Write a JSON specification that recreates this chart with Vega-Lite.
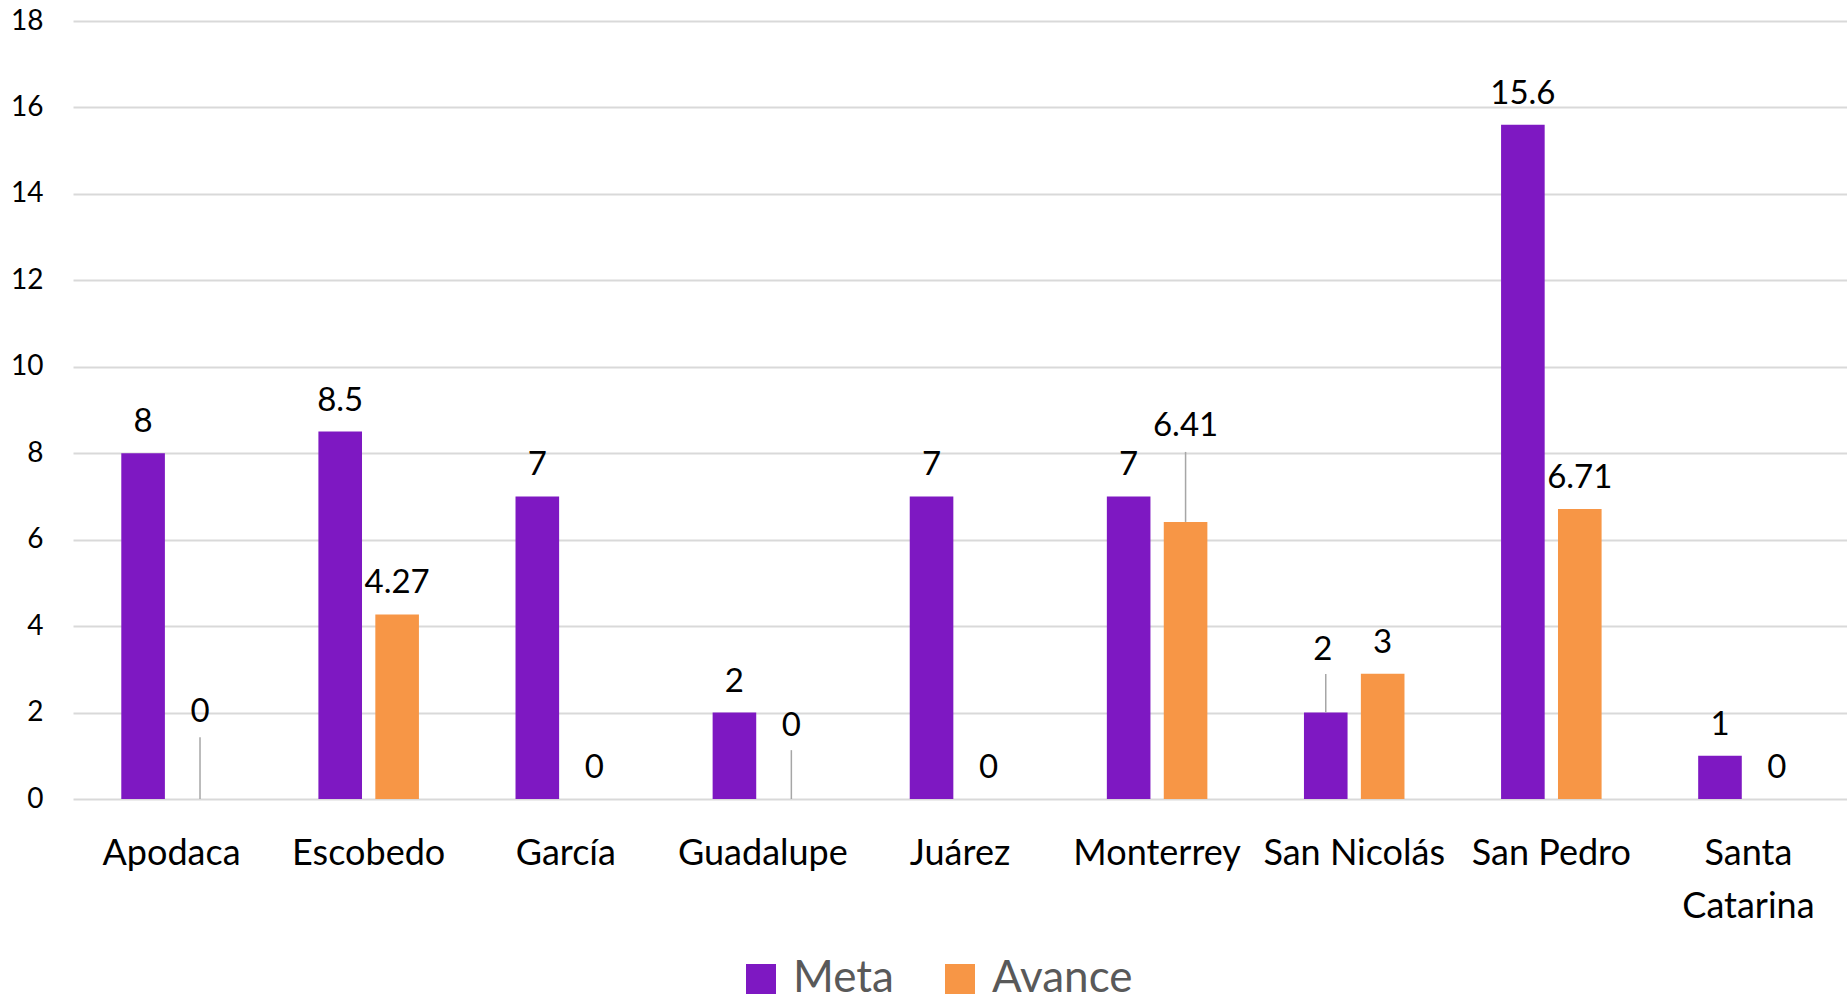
{
  "$schema": "https://vega.github.io/schema/vega-lite/v6.json",
  "width": 1774,
  "height": 778,
  "autosize": {"type": "none"},
  "padding": {"left": 73, "top": 21, "right": 0, "bottom": 208},
  "background": "white",
  "config": {"view": {"stroke": null}, "font": "Lato"},
  "data": {
    "values": [
      {"municipio": "Apodaca", "serie": "Meta", "valor": 8, "etiqueta": "8"},
      {"municipio": "Apodaca", "serie": "Avance", "valor": 0, "etiqueta": "0"},
      {"municipio": "Escobedo", "serie": "Meta", "valor": 8.5, "etiqueta": "8.5"},
      {"municipio": "Escobedo", "serie": "Avance", "valor": 4.27, "etiqueta": "4.27"},
      {"municipio": "García", "serie": "Meta", "valor": 7, "etiqueta": "7"},
      {"municipio": "García", "serie": "Avance", "valor": 0, "etiqueta": "0"},
      {"municipio": "Guadalupe", "serie": "Meta", "valor": 2, "etiqueta": "2"},
      {"municipio": "Guadalupe", "serie": "Avance", "valor": 0, "etiqueta": "0"},
      {"municipio": "Juárez", "serie": "Meta", "valor": 7, "etiqueta": "7"},
      {"municipio": "Juárez", "serie": "Avance", "valor": 0, "etiqueta": "0"},
      {"municipio": "Monterrey", "serie": "Meta", "valor": 7, "etiqueta": "7"},
      {"municipio": "Monterrey", "serie": "Avance", "valor": 6.41, "etiqueta": "6.41"},
      {"municipio": "San Nicolás", "serie": "Meta", "valor": 2, "etiqueta": "2"},
      {"municipio": "San Nicolás", "serie": "Avance", "valor": 2.9, "etiqueta": "3"},
      {"municipio": "San Pedro", "serie": "Meta", "valor": 15.6, "etiqueta": "15.6"},
      {"municipio": "San Pedro", "serie": "Avance", "valor": 6.71, "etiqueta": "6.71"},
      {"municipio": "Santa Catarina", "serie": "Meta", "valor": 1, "etiqueta": "1"},
      {"municipio": "Santa Catarina", "serie": "Avance", "valor": 0, "etiqueta": "0"}
    ]
  },
  "encoding": {
    "x": {
      "field": "municipio",
      "type": "nominal",
      "sort": null,
      "scale": {"paddingInner": 0.49, "paddingOuter": 0.245},
      "axis": {
        "title": null,
        "ticks": false,
        "domain": false,
        "labelAngle": 0,
        "labelFont": "Lato",
        "labelFontSize": 36,
        "labelColor": "#000000",
        "labelPadding": 37,
        "labelOverlap": false,
        "labelLimit": 0,
        "labelLineHeight": 53,
        "labelExpr": "datum.label == 'Santa Catarina' ? ['Santa', 'Catarina'] : datum.label"
      }
    },
    "xOffset": {
      "field": "serie",
      "type": "nominal",
      "sort": ["Meta", "Avance"],
      "scale": {"paddingInner": 0.234, "paddingOuter": 0}
    },
    "y": {
      "field": "valor",
      "type": "quantitative",
      "scale": {"domain": [0, 18]},
      "axis": {
        "title": null,
        "values": [0, 2, 4, 6, 8, 10, 12, 14, 16, 18],
        "ticks": false,
        "domain": false,
        "grid": true,
        "gridColor": "#d9d9d9",
        "gridWidth": 2,
        "labelFont": "Lato",
        "labelFontSize": 28,
        "labelColor": "#000000",
        "labelPadding": 30
      }
    }
  },
  "layer": [
    {
      "mark": {"type": "bar"},
      "encoding": {
        "color": {
          "field": "serie",
          "type": "nominal",
          "scale": {"domain": ["Meta", "Avance"], "range": ["#7e18c2", "#f79646"]},
          "legend": {
            "title": null,
            "orient": "none",
            "legendX": 666,
            "legendY": 936,
            "direction": "horizontal",
            "symbolType": "square",
            "symbolSize": 900,
            "symbolStrokeWidth": 0,
            "labelFont": "Lato",
            "labelFontSize": 44,
            "labelColor": "#595959",
            "labelOffset": 10,
            "columnPadding": 44
          }
        }
      }
    },
    {
      "transform": [{"filter": "!((datum.municipio == 'Apodaca' && datum.serie == 'Avance') || (datum.municipio == 'Guadalupe' && datum.serie == 'Avance') || (datum.municipio == 'Monterrey' && datum.serie == 'Avance') || (datum.municipio == 'San Nicolás' && datum.serie == 'Meta'))"}],
      "mark": {"type": "text", "dy": -21, "baseline": "alphabetic", "align": "center", "font": "Lato", "fontSize": 33, "color": "#000000"},
      "encoding": {"text": {"field": "etiqueta"}}
    },
    {
      "transform": [{"filter": "datum.municipio == 'Apodaca' && datum.serie == 'Avance'"}],
      "mark": {"type": "text", "dy": -77, "baseline": "alphabetic", "align": "center", "font": "Lato", "fontSize": 33, "color": "#000000"},
      "encoding": {"text": {"field": "etiqueta"}}
    },
    {
      "transform": [{"filter": "datum.municipio == 'Guadalupe' && datum.serie == 'Avance'"}],
      "mark": {"type": "text", "dy": -63, "baseline": "alphabetic", "align": "center", "font": "Lato", "fontSize": 33, "color": "#000000"},
      "encoding": {"text": {"field": "etiqueta"}}
    },
    {
      "transform": [{"filter": "datum.municipio == 'Monterrey' && datum.serie == 'Avance'"}],
      "mark": {"type": "text", "dy": -86, "baseline": "alphabetic", "align": "center", "font": "Lato", "fontSize": 33, "color": "#000000"},
      "encoding": {"text": {"field": "etiqueta"}}
    },
    {
      "transform": [{"filter": "datum.municipio == 'San Nicolás' && datum.serie == 'Meta'"}],
      "mark": {"type": "text", "dy": -53, "dx": -3, "baseline": "alphabetic", "align": "center", "font": "Lato", "fontSize": 33, "color": "#000000"},
      "encoding": {"text": {"field": "etiqueta"}}
    },
    {
      "transform": [{"filter": "datum.municipio == 'Apodaca' && datum.serie == 'Avance'"}],
      "mark": {"type": "rule", "color": "#a6a6a6", "strokeWidth": 1.5},
      "encoding": {"y2": {"datum": 1.43}}
    },
    {
      "transform": [{"filter": "datum.municipio == 'Guadalupe' && datum.serie == 'Avance'"}],
      "mark": {"type": "rule", "color": "#a6a6a6", "strokeWidth": 1.5},
      "encoding": {"y2": {"datum": 1.13}}
    },
    {
      "transform": [{"filter": "datum.municipio == 'Monterrey' && datum.serie == 'Avance'"}],
      "mark": {"type": "rule", "color": "#a6a6a6", "strokeWidth": 1.5},
      "encoding": {"y2": {"datum": 8.03}}
    },
    {
      "transform": [{"filter": "datum.municipio == 'San Nicolás' && datum.serie == 'Meta'"}],
      "mark": {"type": "rule", "color": "#a6a6a6", "strokeWidth": 1.5},
      "encoding": {"y2": {"datum": 2.89}}
    }
  ]
}
